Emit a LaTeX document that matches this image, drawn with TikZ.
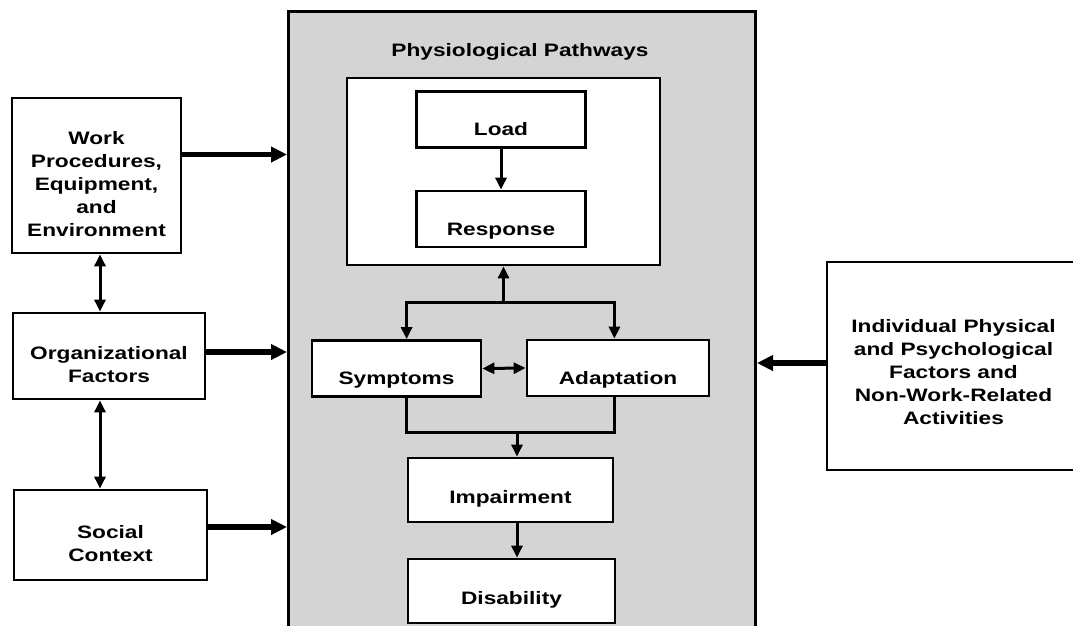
\documentclass[tikz,border=0pt]{standalone}
\usepackage{fontspec}
\setmainfont{Liberation Sans}[FakeStretch=1.26]
\usetikzlibrary{arrows.meta}

\definecolor{panelgray}{HTML}{D4D4D4}

% strut that pushes a text block down inside its box
\newcommand{\topgap}[1][30pt]{\rule{0pt}{#1}}

\begin{document}
\begin{tikzpicture}[x=1pt, y=-1pt,
  font=\fontsize{18}{23}\selectfont\bfseries,
  box/.style={draw, fill=white, line width=2.8pt, align=center, inner sep=0pt},
  stage/.style={box, text height=44pt, text depth=12pt},
  widestage/.style={box, text height=45pt, text depth=19pt},
  bigarrow/.style={-{Triangle[length=16pt, width=15pt]}, line width=5.5pt},
  smallarrow/.style={-{Triangle[length=12pt, width=11pt]}, line width=3pt},
  bothway/.style={{Triangle[length=12pt, width=11pt]}-{Triangle[length=12pt, width=11pt]}, line width=3pt}]

\useasboundingbox (0,0) rectangle (1073,625);

%% CENTRE PANEL: physiological pathways
\node[draw, fill=panelgray, line width=3pt, inner sep=0pt, anchor=north west,
      minimum width=467pt, minimum height=640pt] (pathways) at (287,10) {};
\node[anchor=base] (title) at (520,56) {Physiological Pathways};

% Load / response block
\node[box, minimum width=313pt, minimum height=187pt] (inner) at (503.5,171.5) {};
\node[stage, minimum width=169pt] (load) at (501,119.5) {Load};
\node[stage, minimum width=169pt] (response) at (501,219) {Response};
\draw[smallarrow] (load.south) -- (response.north);

% Symptoms and adaptation
\node[stage, minimum width=169pt] (symptoms) at (396.5,368.5) {Symptoms};
\node[stage, minimum width=182pt] (adapt) at (618,368) {Adaptation};

% Outcomes
\node[widestage, minimum width=205pt] (impair) at (510.5,490) {Impairment};
\node[widestage, minimum width=207pt] (disab) at (511.5,591) {Disability};

% Split under the response block
\coordinate (split) at (503.5,302);
\draw[smallarrow] (split) -- (inner.south);
\draw[smallarrow] (split) -| (symptoms.north -| impair.west);
\draw[smallarrow] (split) -| (adapt.north -| impair.east);
\draw[bothway] (symptoms.east) -- (adapt.west);

% Merge into impairment
\coordinate (merge) at (517,432);
\draw[line width=3pt] (symptoms.south -| impair.west) |- (merge) -| (adapt.south -| impair.east);
\draw[smallarrow] (merge) -- (merge |- impair.north);
\draw[smallarrow] (impair.south -| merge) -- (disab.north -| merge);

%% LEFT COLUMN: work-related factors
\node[box, minimum width=169pt, minimum height=155pt] (work) at (96.5,175.5)
      {\topgap Work\\Procedures,\\Equipment,\\and\\Environment};
\node[box, minimum width=192pt, minimum height=86pt] (org) at (109,356)
      {\topgap Organizational\\Factors};
\node[box, minimum width=193pt, minimum height=90pt] (social) at (110.5,535)
      {\topgap Social\\Context};

\draw[bothway] ([xshift=3.5pt]work.south) -- ([xshift=3.5pt]work.south |- org.north);
\draw[bothway] ([xshift=3.5pt]work.south |- org.south) -- ([xshift=3.5pt]work.south |- social.north);

\draw[bigarrow] ([yshift=21pt]work.east) -- ([yshift=21pt]work.east -| pathways.west);
\draw[bigarrow] ([yshift=4pt]org.east) -- ([yshift=4pt]org.east -| pathways.west);
\draw[bigarrow] ([yshift=8pt]social.east) -- ([yshift=8pt]social.east -| pathways.west);

%% RIGHT: individual factors
\node[box, minimum width=253pt, minimum height=208pt] (indiv) at (953.5,366)
      {\topgap[26pt]Individual Physical\\and Psychological\\Factors and\\Non-Work-Related\\Activities};
\draw[bigarrow] ([yshift=3pt]indiv.west) -- ([yshift=3pt]indiv.west -| pathways.east);

\end{tikzpicture}
\end{document}
